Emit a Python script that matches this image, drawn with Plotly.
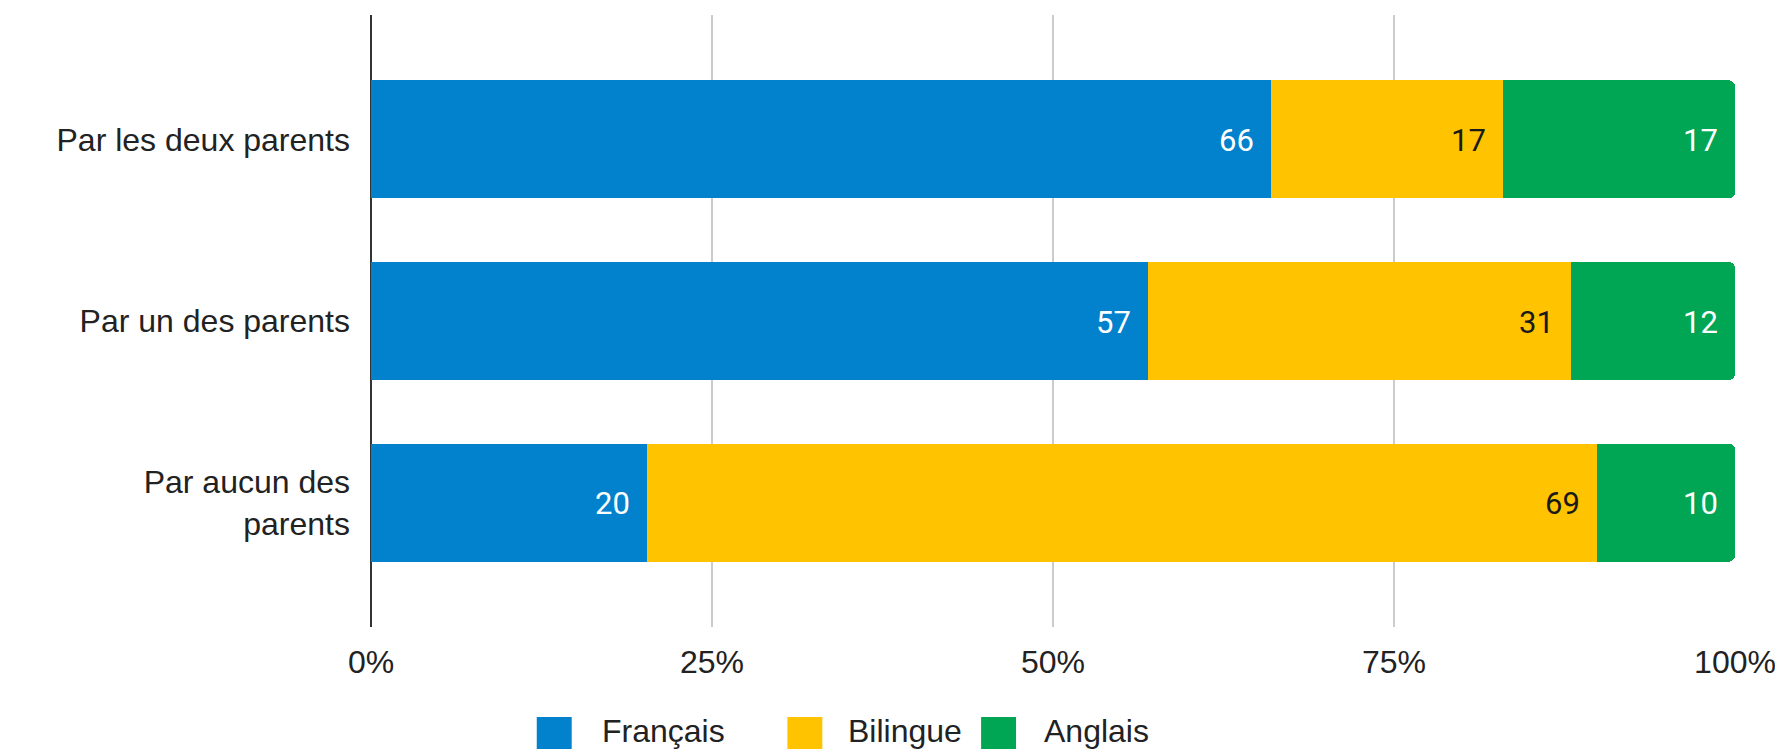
import plotly.graph_objects as go

# ---- data ----
categories = ["Par les deux parents", "Par un des parents", "Par aucun des<br>parents"]
series_names = ["Français", "Bilingue", "Anglais"]
francais = [66, 57, 20]
bilingue = [17, 31, 69]
anglais = [17, 12, 10]
x_tick_values = [0, 25, 50, 75, 100]
x_tick_labels = ["0%", "25%", "50%", "75%", "100%"]

# ---- styles / layout ----
colors = ["#0282CD", "#FFC300", "#00A653"]
label_colors = ["#FFFFFF", "#1A1A1A", "#FFFFFF"]
OFF = 8  # default page body margin
W, H = 1783 - OFF, 750 - OFF
L, R, T, B = 371 - OFF, 46, 15 - OFF, 123
plot_w = W - L - R
plot_h = H - T - B

values = [francais, bilingue, anglais]
totals = [sum(v[i] for v in values) for i in range(len(categories))]

fig = go.Figure()
for name, vals, col in zip(series_names, values, colors):
    fig.add_trace(go.Bar(
        y=categories, x=vals, name=name, orientation="h",
        marker=dict(color=col, line=dict(width=0)),
        showlegend=False, hoverinfo="x+y+name",
    ))

# data labels (inside end, with padding), positioned on the normalized stack
annotations = []
for i, cat in enumerate(categories):
    cum = 0
    for s, vals in enumerate(values):
        cum += vals[i]
        annotations.append(dict(
            x=cum / totals[i] * 100, y=cat, xref="x", yref="y", text=str(vals[i]),
            showarrow=False, xanchor="right", yanchor="middle", xshift=-15, yshift=-1,
            font=dict(family="Roboto", size=31, color=label_colors[s]),
        ))

# custom legend (large rounded squares), positions in window pixels
legend_square_px = [537, 788, 982]
legend_text_px = [600, 847, 1043]
sq_w, sq_top, sq_bot, text_mid = 35, 717, 749, 731

def px_to_paper_x(px):
    return (px - OFF - L) / plot_w

def px_to_paper_y(py):
    return (H - B - (py - OFF)) / plot_h

shapes = []
for name, col, sx, tx in zip(series_names, colors, legend_square_px, legend_text_px):
    shapes.append(dict(
        type="rect", xref="paper", yref="paper",
        x0=px_to_paper_x(sx), x1=px_to_paper_x(sx + sq_w),
        y0=px_to_paper_y(sq_bot), y1=px_to_paper_y(sq_top),
        fillcolor=col, line=dict(width=0), layer="above",
    ))
    annotations.append(dict(
        x=px_to_paper_x(tx), y=px_to_paper_y(text_mid), xref="paper", yref="paper",
        text=name, showarrow=False, xanchor="left", yanchor="middle",
        font=dict(family="Liberation Sans, Arial", size=32, color="#222222"),
    ))

fig.update_layout(
    width=W, height=H,
    margin=dict(l=L, r=R, t=T, b=B, pad=0),
    paper_bgcolor="white", plot_bgcolor="white",
    barmode="stack", barnorm="percent", bargap=0.35, barcornerradius=6,
    font=dict(family="Liberation Sans, Arial", color="#222222"),
    annotations=annotations, shapes=shapes,
    showlegend=False,
)
fig.update_xaxes(
    range=[0, 100], tickvals=x_tick_values, ticktext=x_tick_labels,
    showgrid=True, gridcolor="#CCCCCC", gridwidth=2,
    zeroline=True, zerolinecolor="#333333", zerolinewidth=2,
    showline=False, ticks="", ticklabelstandoff=13,
    tickfont=dict(family="Liberation Sans, Arial", size=32, color="#222222"),
)
fig.update_yaxes(
    categoryorder="array", categoryarray=categories,
    range=[2.685, -0.685],
    showgrid=False, zeroline=False, showline=False, ticks="",
    ticklabelstandoff=20,
    tickfont=dict(family="Liberation Sans, Arial", size=32, color="#222222"),
)

fig.write_html("out.html")
